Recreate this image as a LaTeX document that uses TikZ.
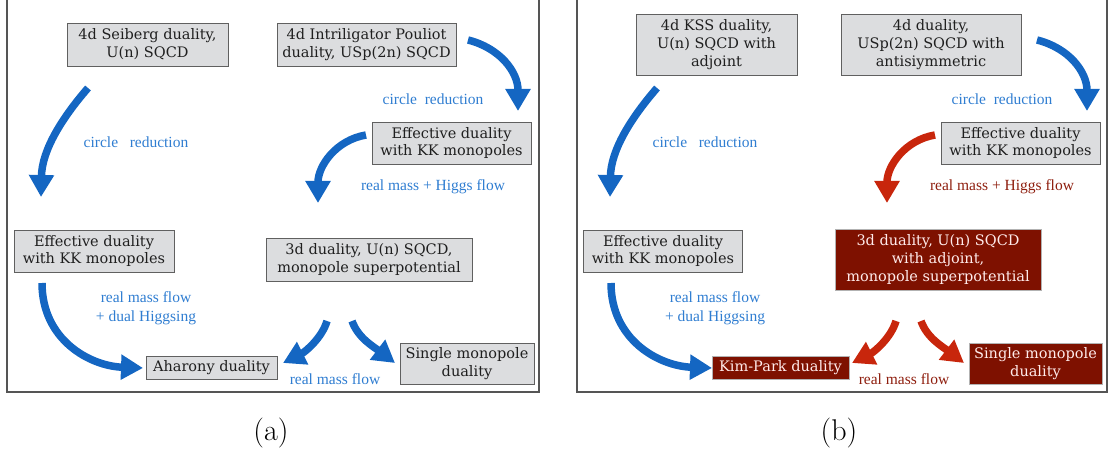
\documentclass[tikz,border=0pt]{standalone}
\usepackage{fontspec}
\usetikzlibrary{arrows.meta}
\newfontfamily\boxfont{DejaVu Serif}
\newfontfamily\labfont{Liberation Serif}
\definecolor{arrblue}{HTML}{1466C2}
\definecolor{labblue}{HTML}{2F7DD1}
\definecolor{arrred}{HTML}{C8260C}
\definecolor{labred}{HTML}{8E1E0E}
\definecolor{boxred}{HTML}{7E1100}
\definecolor{boxgray}{HTML}{DCDDDF}
\definecolor{framegray}{HTML}{555555}
\tikzset{
  graybox/.style={draw=gray!75!black, line width=0.9pt, fill=boxgray, align=center,
    font=\boxfont\fontsize{14.5}{17.8}\selectfont, text=black!88, inner sep=0pt},
  redbox/.style={draw=gray!60, line width=0.9pt, fill=boxred, align=center,
    font=\boxfont\fontsize{14.5}{17.8}\selectfont, text=white!92!red, inner sep=0pt},
  lab/.style={font=\labfont\fontsize{15.5}{19}\selectfont, align=center, text=labblue, inner sep=0pt},
  labr/.style={lab, text=labred},
  flowb/.style={draw=arrblue, line width=7.5pt, -{Triangle[width=24pt,length=22pt]}},
  flowr/.style={draw=arrred, line width=7.5pt, -{Triangle[width=24pt,length=22pt]}},
  panelframe/.style={draw=framegray, line width=1.4pt},
  captext/.style={font=\fontsize{30}{34}\selectfont, inner sep=0pt}
}
\begin{document}
\begin{tikzpicture}[x=1pt,y=-1pt]
\useasboundingbox (0,0) rectangle (1111,457);
% frames
\draw[panelframe] (7,0) -- (7,392) -- (539,392) -- (539,0);
\draw[panelframe] (577,0) -- (577,392) -- (1107,392) -- (1107,0);

% ---------- panel (a) ----------
\node[graybox, minimum width=161pt, minimum height=43pt] (aseib) at (147.5,44.5) {4d Seiberg duality,\\U(n) SQCD};
\node[graybox, minimum width=179pt, minimum height=43pt] (aip) at (366.5,44.5) {4d Intriligator Pouliot\\duality, USp(2n) SQCD};
\node[graybox, minimum width=159pt, minimum height=42pt] (aeffR) at (451.5,143) {Effective duality\\with KK monopoles};
\node[graybox, minimum width=160pt, minimum height=42pt] (aeffL) at (94,251) {Effective duality\\with KK monopoles};
\node[graybox, minimum width=206pt, minimum height=43pt] (ad3) at (369,259.5) {3d duality, U(n) SQCD,\\monopole superpotential};
\node[graybox, minimum width=131pt, minimum height=23pt] (ahar) at (211.5,367.5) {Aharony duality};
\node[graybox, minimum width=134pt, minimum height=41pt] (asing) at (467,363.5) {Single monopole\\duality};

\node[lab] (alcr) at (136,142) {circle\ \ \ reduction};
\node[lab] (arcr) at (433,99) {circle\ \ reduction};
\node[lab] (arh) at (433,187) {real mass + Higgs flow};
\node[lab] (arm) at (146,308.5) {real mass flow\\+ dual Higgsing};
\node[lab] (armf) at (335,379) {real mass flow};
\node[captext] (capa) at (271,433) {(a)};

\coordinate (a1s) at (88,88);   \coordinate (a1t) at (41,197);
\coordinate (a2s) at (468,40);  \coordinate (a2t) at (518,111);
\coordinate (a3s) at (366,135); \coordinate (a3t) at (318,203);
\coordinate (a4s) at (42,283);  \coordinate (a4t) at (143,368);
\coordinate (a5s) at (327,321); \coordinate (a5t) at (283,363);
\coordinate (a6s) at (352,321); \coordinate (a6t) at (395,363);
\draw[flowb] (a1s) .. controls (62,118) and (42,150) .. (a1t);
\draw[flowb] (a2s) .. controls (500,48) and (518,72) .. (a2t);
\draw[flowb] (a3s) .. controls (336,140) and (318,166) .. (a3t);
\draw[flowb] (a4s) .. controls (42,340) and (90,366) .. (a4t);
\draw[flowb] (a5s) .. controls (322,338) and (305,352) .. (a5t);
\draw[flowb] (a6s) .. controls (358,338) and (374,347) .. (a6t);

% ---------- panel (b) ----------
\node[graybox, minimum width=161pt, minimum height=61pt] (bkss) at (716.5,44.5) {4d KSS duality,\\U(n) SQCD with\\adjoint};
\node[graybox, minimum width=180pt, minimum height=61pt] (busp) at (931,44.5) {4d duality,\\USp(2n) SQCD with\\antisiymmetric};
\node[graybox, minimum width=159pt, minimum height=42pt] (beffR) at (1020.5,143) {Effective duality\\with KK monopoles};
\node[graybox, minimum width=159pt, minimum height=42pt] (beffL) at (663,251) {Effective duality\\with KK monopoles};
\node[redbox, minimum width=206pt, minimum height=61pt] (bd3) at (938,259.5) {3d duality, U(n) SQCD\\with adjoint,\\monopole superpotential};
\node[redbox, minimum width=137pt, minimum height=23pt] (bkp) at (780.5,367.5) {Kim-Park duality};
\node[redbox, minimum width=133pt, minimum height=41pt] (bsing) at (1035.5,363.5) {Single monopole\\duality};

\node[lab] (blcr) at (705,142) {circle\ \ \ reduction};
\node[lab] (brcr) at (1002,99) {circle\ \ reduction};
\node[labr] (brh) at (1002,187) {real mass + Higgs flow};
\node[lab] (brm) at (715,308.5) {real mass flow\\+ dual Higgsing};
\node[labr] (brmf) at (904,379) {real mass flow};
\node[captext] (capb) at (839,433) {(b)};

\coordinate (b1s) at (657,88);   \coordinate (b1t) at (610,197);
\coordinate (b2s) at (1037,40);  \coordinate (b2t) at (1087,111);
\coordinate (b3s) at (935,135);  \coordinate (b3t) at (887,203);
\coordinate (b4s) at (611,283);  \coordinate (b4t) at (712,368);
\coordinate (b5s) at (896,321);  \coordinate (b5t) at (852,363);
\coordinate (b6s) at (921,321);  \coordinate (b6t) at (964,363);
\draw[flowb] (b1s) .. controls (631,118) and (611,150) .. (b1t);
\draw[flowb] (b2s) .. controls (1069,48) and (1087,72) .. (b2t);
\draw[flowr] (b3s) .. controls (905,140) and (887,166) .. (b3t);
\draw[flowb] (b4s) .. controls (611,340) and (659,366) .. (b4t);
\draw[flowr] (b5s) .. controls (891,338) and (874,352) .. (b5t);
\draw[flowr] (b6s) .. controls (927,338) and (943,347) .. (b6t);
\end{tikzpicture}
\end{document}
